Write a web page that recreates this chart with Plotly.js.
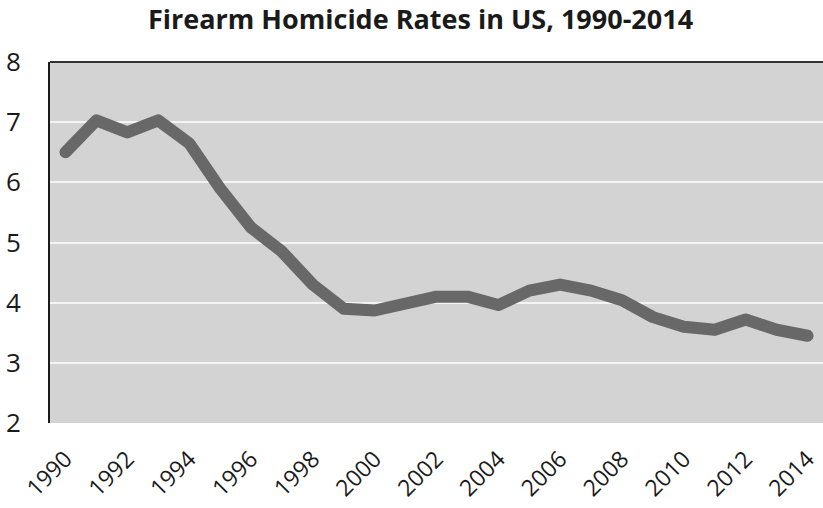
<!DOCTYPE html>
<html>
<head>
<meta charset="utf-8">
<script src="https://cdn.plot.ly/plotly-3.0.1.min.js"></script>
<style>html,body{margin:0;padding:0;background:#fff;}#chart{width:823px;height:508px;}
.scatterlayer path.js-line{stroke-linecap:round !important;stroke-linejoin:round !important;}</style>
</head>
<body>
<div id="chart"></div>
<script>
const years = ['1990','1991','1992','1993','1994','1995','1996','1997','1998','1999','2000','2001','2002','2003','2004','2005','2006','2007','2008','2009','2010','2011','2012','2013','2014'];
const rates = [6.5,7.03,6.83,7.03,6.65,5.9,5.25,4.85,4.3,3.9,3.87,4.0,4.1,4.1,3.96,4.2,4.3,4.2,4.04,3.76,3.6,3.55,3.72,3.55,3.45];
const tickYears = ['1990','1992','1994','1996','1998','2000','2002','2004','2006','2008','2010','2012','2014'];
const yTicks = [2,3,4,5,6,7,8];

const trace = {
  x: years, y: rates, type: 'scatter', mode: 'lines',
  line: {color: '#686868', width: 12, shape: 'linear'},
  hoverinfo: 'skip'
};
const font = 'Open Sans, Liberation Sans, sans-serif';
const layout = {
  width: 823, height: 508,
  margin: {l: 50, r: 0, t: 62, b: 85, pad: 0},
  paper_bgcolor: '#ffffff',
  plot_bgcolor: '#d3d3d3',
  showlegend: false,
  title: {text: '<b>Firearm Homicide Rates in US, 1990-2014</b>', font: {family: font, size: 27, color: '#1a1a1a'}, x: 0.511, xanchor: 'center', y: 0.962, yanchor: 'middle'},
  xaxis: {
    type: 'category', range: [-0.5, years.length - 0.5], tickmode: 'array', tickvals: tickYears, ticktext: tickYears,
    tickangle: -45, showgrid: false, zeroline: false, showline: false, ticks: '', ticklabelstandoff: 17,
    tickfont: {family: font, size: 23, color: '#1a1a1a'}, automargin: false
  },
  yaxis: {
    range: [2, 8], tickmode: 'array', tickvals: yTicks, ticktext: yTicks.map(String),
    showgrid: true, gridcolor: '#f4f4f4', gridwidth: 2, zeroline: false,
    showline: true, linecolor: '#1a1a1a', linewidth: 2, ticks: '', ticklabelstandoff: 22,
    tickfont: {family: font, size: 26, color: '#1a1a1a'}, automargin: false
  },
  shapes: [{type: 'line', xref: 'paper', yref: 'paper', x0: 0, x1: 1, y0: 1, y1: 1, line: {color: '#333333', width: 2}}]
};
Plotly.newPlot('chart', [trace], layout, {staticPlot: true, displayModeBar: false});
</script>
</body>
</html>
